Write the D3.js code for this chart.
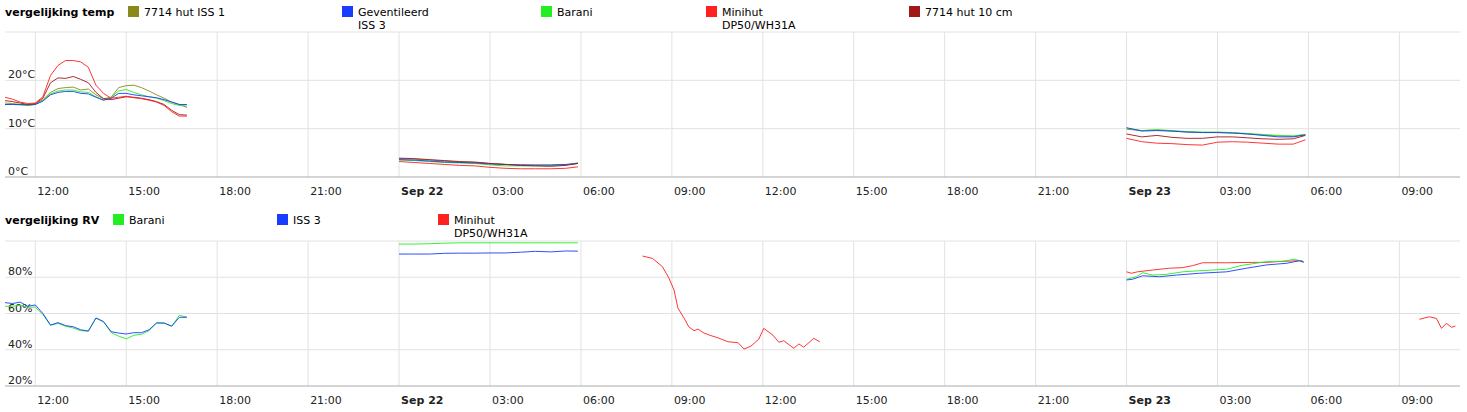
<!DOCTYPE html>
<html><head><meta charset="utf-8">
<script src="https://cdn.jsdelivr.net/npm/d3@7"></script>
<style>body{margin:0;background:#fff}svg{font-family:"DejaVu Sans",Verdana,sans-serif}</style>
</head><body><svg id="c" width="1467" height="412"></svg>
<script>
// time in hours since Sep 21 00:00
const xTicks = [12,15,18,21,24,27,30,33,36,39,42,45,48,51,54,57];
const tempTicks = [0,10,20,30];
const rvTicks = [20,40,60,80,100];
const tempSeries = [
 {name:"7714 hut ISS 1", name2:"", color:"#8a8a1c"},
 {name:"Geventileerd", name2:"ISS 3", color:"#1a3cff"},
 {name:"Barani", name2:"", color:"#22ee22"},
 {name:"Minihut", name2:"DP50/WH31A", color:"#ff2020"},
 {name:"7714 hut 10 cm", name2:"", color:"#a01818"}
];
const rvSeriesInfo = [
 {name:"Barani", name2:"", color:"#22ee22"},
 {name:"ISS 3", name2:"", color:"#1a3cff"},
 {name:"Minihut", name2:"DP50/WH31A", color:"#ff2020"}
];
const t1 = [11,11.25,11.5,11.75,12,12.25,12.5,12.75,13,13.25,13.5,13.75,14,14.25,14.5,14.75,15,15.25,15.5,15.75,16,16.25,16.5,16.75,17];
const t2 = [24,24.5,25,25.5,26,26.5,27,27.5,28,28.5,29,29.5,29.9];
const t3 = [48,48.5,49,49.5,50,50.5,51,51.5,52,52.5,53,53.5,53.9];
// temperature values
const olive1 = [15.3,15.2,15.0,14.9,15.1,16.0,17.5,18.3,18.5,18.6,18.0,18.2,17.0,16.2,16.5,18.5,18.9,19.0,18.5,17.8,17.0,16.3,15.5,15.0,14.4];
const blue1  = [15.0,15.0,15.0,14.9,15.0,15.7,17.0,17.5,17.7,17.7,17.3,17.2,16.5,15.9,16.3,17.3,17.3,17.0,16.8,16.6,16.4,16.0,15.5,15.0,15.0];
const green1 = [15.0,15.0,14.9,14.8,15.0,15.8,17.2,17.8,18.0,18.0,17.6,17.5,16.6,15.9,16.5,17.8,18.1,17.5,17.0,16.6,16.3,15.8,15.2,14.8,14.7];
const red1   = [16.5,16.1,15.5,15.2,15.3,16.6,21.0,23.1,24.1,24.1,23.8,22.7,19.0,17.3,16.3,16.5,16.7,16.4,16.2,15.9,15.5,14.8,13.5,12.6,12.6];
const dred1  = [15.8,15.6,15.3,15.0,15.2,16.3,19.5,20.5,20.4,20.8,20.2,19.5,17.5,16.2,16.0,16.3,16.6,16.5,16.3,16.0,15.6,15.0,13.8,12.9,12.8];
const olive2 = [3.8,3.7,3.5,3.3,3.1,3.0,2.8,2.6,2.5,2.4,2.4,2.5,2.9];
const blue2  = [3.6,3.5,3.3,3.1,3.0,2.9,2.7,2.6,2.5,2.5,2.5,2.6,2.8];
const green2 = [3.5,3.4,3.2,3.0,2.9,2.8,2.5,2.3,2.3,2.3,2.4,2.5,2.9];
const red2   = [3.2,3.0,2.8,2.6,2.4,2.3,2.0,1.8,1.7,1.7,1.7,1.8,2.1];
const dred2  = [3.9,3.8,3.6,3.4,3.2,3.1,2.8,2.6,2.4,2.3,2.2,2.4,2.8];
const olive3 = [9.9,9.6,9.7,9.5,9.3,9.2,9.2,9.1,8.9,8.7,8.5,8.4,8.8];
const blue3  = [10.2,9.5,9.6,9.5,9.3,9.2,9.2,9.1,8.9,8.6,8.3,8.3,8.7];
const green3 = [10.1,9.6,9.8,9.6,9.4,9.3,9.3,9.2,9.0,8.8,8.6,8.5,8.8];
const red3   = [8.0,7.3,7.0,6.9,6.7,6.6,7.2,7.3,7.2,7.0,6.8,6.8,7.7];
const dred3  = [8.9,8.3,8.6,8.2,8.0,8.0,8.3,8.3,8.1,7.9,7.8,7.9,8.6];
// humidity values
const rvGreen1 = [64,64,64.5,63.5,63.5,59.5,53.5,54.5,53,52,50.5,50.3,57.5,55.5,49.5,47.5,46,48,48.5,50.5,55,54.8,53,59,58];
const rvBlue1  = [66,65.5,66.3,64,64.7,60,53.6,55,53.3,52.7,51,50.3,57.5,55.5,50,49.2,48.7,49.4,49.4,51,54.7,54.7,53,57.9,57.9];
const rvGreen2 = [98.3,98.3,98.5,98.8,99,99,99,99,99,99,99,99,99];
const rvBlue2  = [92.8,92.8,92.8,93.2,93.3,93.3,93.4,93.4,93.8,94.3,94.0,94.5,94.4];
const rvRedT2 = [32.03,32.36,32.69,32.9,33.07,33.2,33.4,33.56,33.73,33.86,34.06,34.29,34.52,34.85,35.18,35.38,35.61,35.87,36.03,36.33,36.53,36.69,37.02,37.19,37.35,37.68,37.88];
const rvRed2 = [91.7,90.4,85.8,79.6,73,63,57.5,52.6,50.5,51.4,49.2,47.8,46.6,44.4,43.9,40.4,42,45.9,51.8,48.1,44.1,45,40.8,43.2,41.4,46.3,44.4];
const rvRedT3 = [48,48.16,48.36,48.86,49.42,49.85,50.18,50.51,51.3,52.15,52.62,52.95,53.47,53.77,53.84];
const rvRed3 = [83,82.2,83,84,85,85.3,86.4,88,88,88.2,88.2,88.6,89,89.2,88.6];
const rvGreenT3 = [48,48.33,48.53,48.86,49.32,49.85,50.41,51.3,51.82,52.62,53.14,53.54,53.84];
const rvGreen3 = [78.9,80.3,82.5,81.2,81.6,83,83.6,84.4,86.6,88.6,88.8,89.9,88.6];
const rvBlueT3 = [48,48.2,48.53,49.09,49.65,50.41,51.3,51.96,52.62,53.28,53.7,53.84];
const rvBlue3 = [78.5,78.9,80.8,80.3,81.2,82.2,83,85,86.8,87.7,89.1,88.2];
const rvRedT4 = [57.66,57.99,58.22,58.39,58.55,58.72,58.85];
const rvRed4 = [56.8,58.2,57.3,51.8,54.6,52.4,53.1];

const svg = d3.select("#c");
const x = d3.scaleLinear().domain([11,59]).range([5,1460]);
function lbl(h){ if(h%24===0) return h===24?"Sep 22":"Sep 23"; return String(h%24).padStart(2,"0")+":00"; }

function panel(y, ticks, fmt, title, info, segs, lx, legY){
  const g = svg.append("g");
  g.selectAll(".hg").data(ticks.slice(1)).join("line")
   .attr("x1",5).attr("x2",1460).attr("y1",d=>y(d)).attr("y2",d=>y(d)).attr("stroke","#e2e2e2");
  g.selectAll(".vg").data(xTicks).join("line")
   .attr("x1",d=>x(d)).attr("x2",d=>x(d)).attr("y1",y(ticks[ticks.length-1])).attr("y2",y(ticks[0])).attr("stroke","#e2e2e2");
  g.append("line").attr("x1",5).attr("x2",1460).attr("y1",y(ticks[0])).attr("y2",y(ticks[0])).attr("stroke","#aaa");
  g.selectAll(".yl").data(ticks.slice(0,-1)).join("text")
   .attr("x",8).attr("y",d=>y(d)-2).attr("font-size",11).attr("fill","#222").text(fmt);
  g.selectAll(".xl").data(xTicks).join("text")
   .attr("x",d=>x(d)+2).attr("y",y(ticks[0])+18).attr("font-size",11).attr("fill","#222")
   .attr("font-weight",d=>d%24===0?"bold":"normal").text(lbl);
  const line = d3.line().x(d=>x(d[0])).y(d=>y(d[1]));
  segs.forEach(s=>{
    g.append("path").attr("d",line(s.t.map((t,i)=>[t,s.v[i]])))
     .attr("fill","none").attr("stroke",info[s.i].color).attr("stroke-width",1).attr("stroke-opacity",0.9);
  });
  g.append("text").attr("x",5).attr("y",legY+10).attr("font-size",11).attr("font-weight","bold").text(title);
  info.forEach((s,i)=>{
    g.append("rect").attr("x",lx[i]).attr("y",legY).attr("width",11).attr("height",11).attr("fill",s.color);
    g.append("text").attr("x",lx[i]+16).attr("y",legY+10).attr("font-size",11).text(s.name);
    if(s.name2) g.append("text").attr("x",lx[i]+16).attr("y",legY+23).attr("font-size",11).text(s.name2);
  });
}
const yT = d3.scaleLinear().domain([0,30]).range([177,32]);
panel(yT, tempTicks, d=>d+"°C", "vergelijking temp", tempSeries, [
 {i:0,t:t1,v:olive1},{i:2,t:t1,v:green1},{i:1,t:t1,v:blue1},{i:4,t:t1,v:dred1},{i:3,t:t1,v:red1},
 {i:0,t:t2,v:olive2},{i:2,t:t2,v:green2},{i:1,t:t2,v:blue2},{i:4,t:t2,v:dred2},{i:3,t:t2,v:red2},
 {i:0,t:t3,v:olive3},{i:2,t:t3,v:green3},{i:1,t:t3,v:blue3},{i:4,t:t3,v:dred3},{i:3,t:t3,v:red3}
], [128,342,541,706,909], 6);
const yR = d3.scaleLinear().domain([20,100]).range([386,241]);
panel(yR, rvTicks, d=>d+"%", "vergelijking RV", rvSeriesInfo, [
 {i:0,t:t1,v:rvGreen1},{i:1,t:t1,v:rvBlue1},
 {i:0,t:t2,v:rvGreen2},{i:1,t:t2,v:rvBlue2},
 {i:2,t:rvRedT2,v:rvRed2},
 {i:2,t:rvRedT3,v:rvRed3},{i:0,t:rvGreenT3,v:rvGreen3},{i:1,t:rvBlueT3,v:rvBlue3},
 {i:2,t:rvRedT4,v:rvRed4}
], [113,277,438], 214);
</script></body></html>
